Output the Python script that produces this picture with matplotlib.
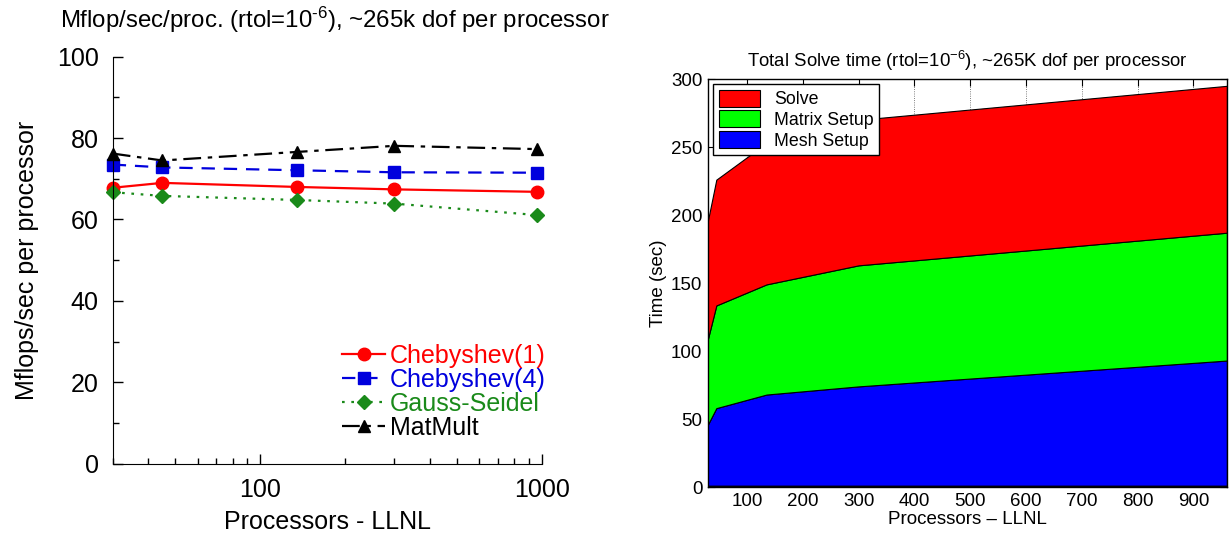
import matplotlib
matplotlib.use("Agg")
import matplotlib.pyplot as plt
from matplotlib.ticker import FixedLocator, NullFormatter, LogLocator

plt.rcParams['font.family'] = ['Liberation Sans', 'DejaVu Sans']
plt.rcParams['mathtext.fontset'] = 'custom'
plt.rcParams['mathtext.rm'] = 'Liberation Sans'
plt.rcParams['mathtext.it'] = 'Liberation Sans:italic'
plt.rcParams['mathtext.bf'] = 'Liberation Sans:bold'

# ---------------- data ----------------
processors = [30, 45, 135, 300, 960]

series_names = ["Chebyshev(1)", "Chebyshev(4)", "Gauss-Seidel", "MatMult"]
cheby1 = [67.8, 69.0, 68.0, 67.4, 66.8]
cheby4 = [73.5, 72.8, 72.1, 71.6, 71.5]
gauss_seidel = [66.7, 65.8, 64.8, 63.9, 61.1]
matmult = [76.2, 74.5, 76.6, 78.1, 77.3]

left_yticks = [0, 20, 40, 60, 80, 100]
left_xticklabels = ["100", "1000"]

area_names = ["Solve", "Matrix Setup", "Mesh Setup"]
other_time = [1.0, 1.0, 1.0, 1.0, 1.0]
mesh_setup = [45.0, 57.0, 67.0, 73.0, 92.0]
matrix_setup = [63.0, 75.5, 81.0, 89.0, 94.0]
solve_time = [87.0, 92.5, 104.0, 107.0, 108.0]

right_xticks = [100, 200, 300, 400, 500, 600, 700, 800, 900]
right_yticks = [0, 50, 100, 150, 200, 250, 300]

# ---------------- figure ----------------
fig = plt.figure(figsize=(12.31, 5.35), dpi=100)

# ---- left chart ----
ax1 = fig.add_axes([0.0916, 0.1333, 0.3485, 0.7607])
styles = [
    dict(color='#ff0000', linestyle='-', marker='o', markersize=9),
    dict(color='#0000dd', linestyle=(0, (6, 4)), marker='s', markersize=8.5),
    dict(color='#1a8a1a', linestyle=(0, (1.2, 3)), marker='D', markersize=7.5),
    dict(color='black', linestyle=(0, (8, 3, 2, 3)), marker='^', markersize=9),
]
for name, vals, st in zip(series_names, [cheby1, cheby4, gauss_seidel, matmult], styles):
    ax1.plot(processors, vals, label=name, linewidth=1.6, clip_on=False, **st)

ax1.set_xscale('log')
ax1.set_xlim(processors[0], 1000)
ax1.set_ylim(0, 100)
ax1.set_xticks([100, 1000])
ax1.set_xticklabels(left_xticklabels)
ax1.xaxis.set_minor_locator(LogLocator(base=10, subs=range(2, 10)))
ax1.xaxis.set_minor_formatter(NullFormatter())
ax1.set_yticks(left_yticks)
ax1.yaxis.set_minor_locator(FixedLocator([10, 30, 50, 70, 90]))
for s in ['top', 'right']:
    ax1.spines[s].set_visible(False)
ax1.tick_params(which='both', direction='in', labelsize=18)
ax1.tick_params(which='major', length=7, width=1, pad=10)
ax1.tick_params(which='minor', length=4, width=1)
ax1.set_xlabel("Processors - LLNL", fontsize=18, labelpad=6)
ax1.set_ylabel("Mflops/sec per processor", fontsize=18, labelpad=13)

leg = ax1.legend(loc='lower right', bbox_to_anchor=(1.05, 0.015), frameon=False,
                 fontsize=18, labelspacing=0.0, handlelength=1.7, handletextpad=0.2,
                 borderpad=0.2)
for txt, st in zip(leg.get_texts(), styles):
    txt.set_color(st['color'])

fig.text(0.272, 0.962, r"Mflop/sec/proc. (rtol=10$^{\text{-}6}$), ~265k dof per processor",
         ha='center', va='center', fontsize=17.3)

# ---- right chart ----
ax2 = fig.add_axes([0.5751, 0.0897, 0.4216, 0.7626])
colors = ['#800000', '#0000ff', '#00ff00', '#ff0000']
polys = ax2.stackplot(processors, other_time, mesh_setup, matrix_setup, solve_time,
                      colors=colors, edgecolor='black', linewidth=0.8)
ax2.set_xlim(processors[0], processors[-1])
ax2.set_ylim(0, 300)
ax2.set_xticks(right_xticks)
ax2.set_yticks(right_yticks)
ax2.grid(True, linestyle=':', color='#555555', linewidth=0.6)
ax2.set_axisbelow(True)
ax2.tick_params(direction='in', top=True, right=True, labelsize=13.5, length=5, pad=4)
ax2.set_xlabel("Processors \u2013 LLNL", fontsize=13.5, labelpad=1)
ax2.set_ylabel("Time (sec)", fontsize=13.5, labelpad=3)
ax2.set_title(r"Total Solve time (rtol=10$^{-6}$), ~265K dof per processor",
              fontsize=13.4, pad=9)
handles = [polys[3], polys[2], polys[1]]
leg2 = ax2.legend(handles, area_names, loc='upper left', fontsize=12.8,
                  fancybox=False, framealpha=1, edgecolor='black',
                  borderaxespad=0.3, labelspacing=0.12, handlelength=2.3,
                  handleheight=1.1, borderpad=0.3)
leg2.get_frame().set_linewidth(1.0)
for sp in ax2.spines.values():
    sp.set_linewidth(1.0)
    sp.set_zorder(5)

fig.savefig("out.png", dpi=100)
